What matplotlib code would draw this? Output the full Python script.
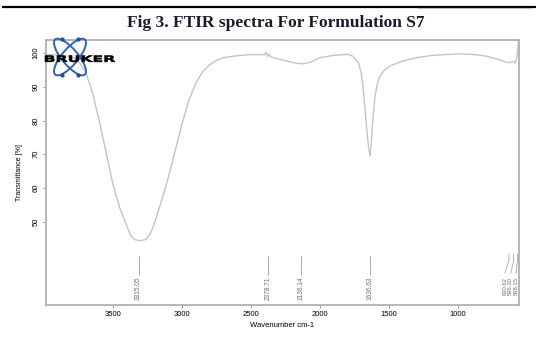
import matplotlib
matplotlib.use("Agg")
import matplotlib.pyplot as plt
from matplotlib.patches import Ellipse, PathPatch
from matplotlib.lines import Line2D
from matplotlib.textpath import TextPath
from matplotlib.font_manager import FontProperties
from matplotlib.transforms import Affine2D
import numpy as np

# spectrum (wavenumber cm-1, transmittance %)
wn = [3990, 3900, 3800, 3750, 3700, 3650, 3600, 3550, 3500, 3450, 3400, 3370,
      3340, 3300, 3260, 3230, 3200, 3150, 3100, 3050, 3000, 2950, 2900, 2850,
      2800, 2750, 2700, 2600, 2500, 2400, 2390, 2378, 2368, 2355, 2300, 2200,
      2140, 2100, 2050, 2000, 1900, 1800, 1760, 1720, 1700, 1685, 1670, 1655,
      1642, 1636, 1628, 1615, 1600, 1580, 1560, 1530, 1490, 1400, 1300, 1200,
      1100, 1000, 900, 800, 700, 660, 630, 600, 585, 572, 566, 560]
tr = [99.5, 99.4, 99.0, 97.5, 94.5, 88.5, 80.0, 70.5, 61.0, 54.0, 48.8, 45.8,
      44.7, 44.4, 44.8, 46.5, 49.5, 56.0, 63.0, 71.0, 79.0, 86.0, 91.0, 94.5,
      96.5, 97.8, 98.6, 99.2, 99.5, 99.5, 100.2, 99.0, 99.6, 98.8, 98.2, 97.2,
      96.8, 96.9, 97.6, 98.6, 99.3, 99.6, 99.0, 97.0, 94.0, 89.0, 82.0, 75.0,
      70.5, 69.6, 73.0, 81.0, 87.5, 91.5, 93.5, 95.0, 96.2, 97.6, 98.6, 99.2,
      99.5, 99.7, 99.6, 99.1, 98.0, 97.4, 97.1, 97.5, 97.0, 98.5, 101.0, 103.5]

peaks = [3315.05, 2378.71, 2136.14, 1636.63]
peak_labels = ["3315.05", "2378.71", "2136.14", "1636.63"]
small_peaks = [630.62, 596.30, 568.15]
small_labels = ["630.62", "596.30", "568.15"]
small_label_x = [660, 617, 578]

xticks = [3500, 3000, 2500, 2000, 1500, 1000]
yticks = [50, 60, 70, 80, 90, 100]

plt.rcParams['font.family'] = ['Liberation Sans', 'DejaVu Sans']

fig = plt.figure(figsize=(5.36, 3.37), dpi=100)
ax = fig.add_axes([0.086, 0.095, 0.882, 0.786])

ax.plot(wn, tr, color="#c4c4c4", lw=1.0)
ax.set_xlim(3985, 558)
ax.set_ylim(25.4, 103.8)

ax.set_xticks(xticks)
ax.set_yticks(yticks)
ax.tick_params(axis="both", labelsize=5.5, color="#888888", length=2.5,
               width=0.6, pad=2)
for lab in ax.get_yticklabels():
    lab.set_rotation(90)
    lab.set_va("center")
for s in ax.spines.values():
    s.set_color("#aaaaaa")
    s.set_linewidth(1.2)

ax.set_xlabel("Wavenumber cm-1", fontsize=5.5, labelpad=3)
ax.set_ylabel("Transmittance [%]", fontsize=5, labelpad=7)

# peak markers
ax.vlines(peaks, 34.3, 39.9, color="#aaaaaa", lw=0.7)
for p, lab in zip(peaks, peak_labels):
    ax.text(p, 33.7, lab, rotation=90, ha="center", va="top", fontsize=4.7,
            color="#707070")
for p, lx, lab in zip(small_peaks, small_label_x, small_labels):
    ax.plot([p, p, lx], [40.5, 38.5, 34.8], color="#aaaaaa", lw=0.6)
    ax.text(lx, 33.7, lab, rotation=90, ha="center", va="top", fontsize=4.2,
            color="#707070")

# title
fig.text(0.515, 0.932, "Fig 3. FTIR spectra For Formulation S7",
         ha="center", va="center", fontsize=12.5, fontweight="bold",
         family="Liberation Serif", color="#1a1a2a")

# top border line of the page
fig.add_artist(Line2D([0.005, 1.0], [0.978, 0.978], color="black", lw=1.6))
fig.add_artist(Line2D([0.78, 0.99], [0.975, 0.975], color="#bbbbbb", lw=0.8))

# Bruker logo, drawn in pixel units
lax = fig.add_axes([40 / 536, 1 - 82 / 337, 85 / 536, 46 / 337])
lax.set_xlim(40, 125)
lax.set_ylim(82, 36)
lax.axis("off")
for ang in (50, -50):
    lax.add_patch(Ellipse((70, 57), 46, 16, angle=ang, fill=False,
                          ec="#2f64b4", lw=1.4))
lax.plot([62, 78, 62, 78], [39, 39, 75, 75], "o", color="#1f4fa0", ms=2.0)
tp = TextPath((0, 0), "BRUKER", size=1,
              prop=FontProperties(family="DejaVu Sans", weight="bold"))
bb = tp.get_extents()
tf = Affine2D().translate(-bb.x0, -bb.y0).scale(70 / bb.width, -6.5 / bb.height)
tf = tf.translate(45, 62)
lax.add_patch(PathPatch(tf.transform_path(tp), fc="black", ec="black", lw=0.4))

fig.savefig("out.png", dpi=100)
